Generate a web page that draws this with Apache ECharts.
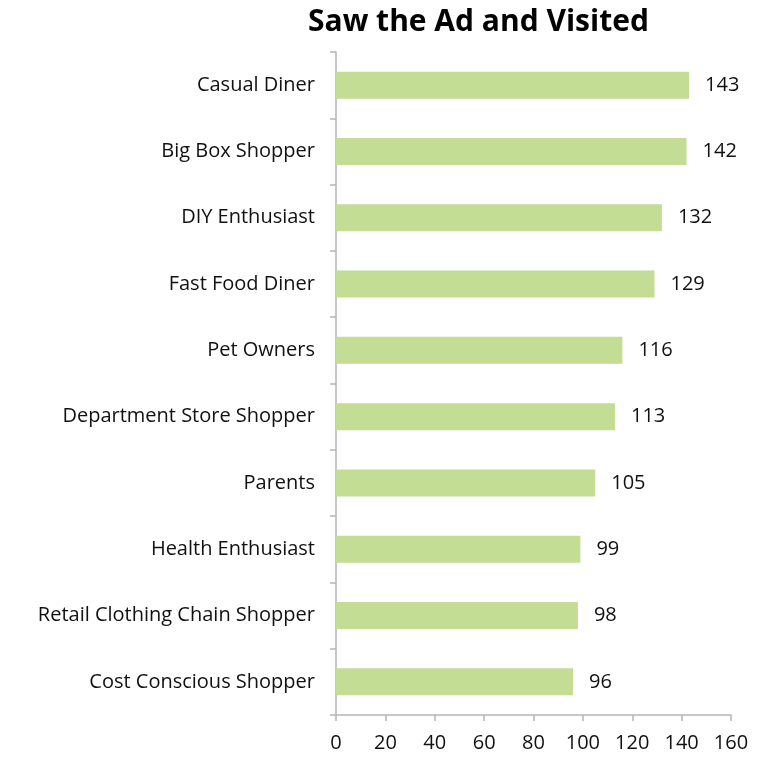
<!DOCTYPE html>
<html><head><meta charset="utf-8">
<script src="https://cdn.jsdelivr.net/npm/echarts@6/dist/echarts.min.js"></script>
<style>html,body{margin:0;padding:0;background:#fff}#c{width:777px;height:758px}</style>
</head><body><div id="c"></div>
<script>
const categories = ["Casual Diner","Big Box Shopper","DIY Enthusiast","Fast Food Diner","Pet Owners","Department Store Shopper","Parents","Health Enthusiast","Retail Clothing Chain Shopper","Cost Conscious Shopper"];
const values = [143,142,132,129,116,113,105,99,98,96];
const xTicks = [0,20,40,60,80,100,120,140,160];
const FONT = '"Open Sans", sans-serif';
const chart = echarts.init(document.getElementById('c'));
chart.setOption({
  animation: false,
  title: { text: 'Saw the Ad and Visited', left: 303, top: 2,
    textStyle: { fontFamily: FONT, fontWeight: 'bold', fontSize: 30, color: '#000' } },
  grid: { left: 336, right: 46, top: 52, bottom: 43, containLabel: false },
  xAxis: { type: 'value', min: xTicks[0], max: xTicks[xTicks.length-1], interval: 20,
    splitLine: { show: false },
    axisLine: { show: true, lineStyle: { color: '#b5b5b5', width: 1.5 } },
    axisTick: { show: true, length: 6, lineStyle: { color: '#b5b5b5', width: 1.5 } },
    axisLabel: { margin: 18, fontFamily: FONT, fontSize: 20, color: '#111' } },
  yAxis: { type: 'category', data: categories.slice().reverse(), inverse: false,
    axisLine: { show: true, lineStyle: { color: '#b5b5b5', width: 1.5 } },
    axisTick: { show: true, length: 6, lineStyle: { color: '#b5b5b5', width: 1.5 } },
    axisLabel: { margin: 21, fontFamily: FONT, fontSize: 20, color: '#111' } },
  series: [{ type: 'bar', data: values.slice().reverse(), barWidth: 27,
    itemStyle: { color: '#c4dd95' },
    label: { show: true, position: 'right', distance: 16, fontFamily: FONT, fontSize: 20, color: '#111' } }]
});
</script></body></html>
